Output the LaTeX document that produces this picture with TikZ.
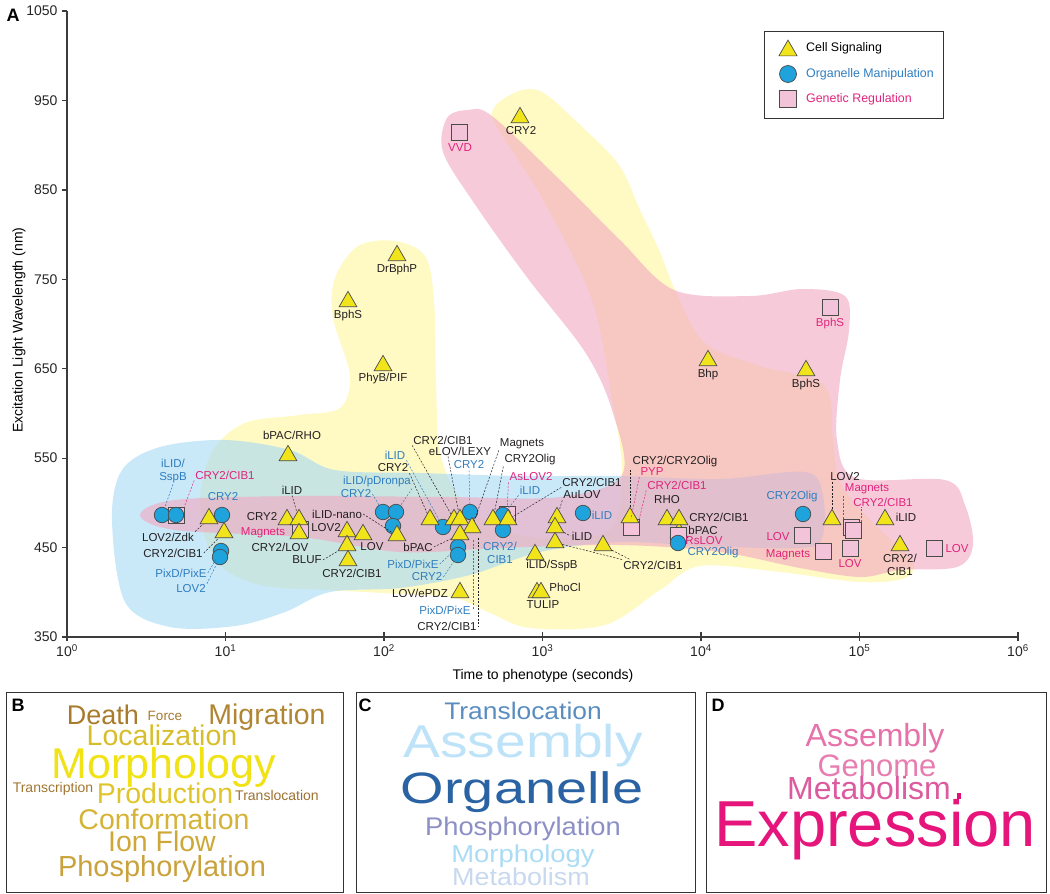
\documentclass[tikz,border=0pt]{standalone}
\usepackage{fontspec}
\setmainfont{Liberation Sans}
\usepackage{graphicx}
\usetikzlibrary{shapes.geometric}

\definecolor{regyellow}{HTML}{FFF59D}
\definecolor{regblue}{HTML}{A5D9F4}
\definecolor{regpink}{HTML}{F2A7C0}
\definecolor{sigyellow}{HTML}{F2E41B}
\definecolor{orgblue}{HTML}{1EA3DD}
\definecolor{genpink}{HTML}{F3C3DA}
\definecolor{mkline}{HTML}{4A4A4A}
\definecolor{labblack}{HTML}{231F20}
\definecolor{labblue}{HTML}{2E7DBF}
\definecolor{labpink}{HTML}{E0237C}
\definecolor{axisgray}{HTML}{3C3C3C}
% word cloud colours
\definecolor{bDeath}{HTML}{A87B2C}
\definecolor{bForce}{HTML}{A57A30}
\definecolor{bMigr}{HTML}{B08634}
\definecolor{bLoc}{HTML}{D8BD2A}
\definecolor{bMorph}{HTML}{F0E214}
\definecolor{bTransc}{HTML}{A27630}
\definecolor{bProd}{HTML}{E0C52A}
\definecolor{bTransl}{HTML}{9D7030}
\definecolor{bConf}{HTML}{D4B336}
\definecolor{bIon}{HTML}{CDA838}
\definecolor{bPhos}{HTML}{C9A23C}
\definecolor{cTransl}{HTML}{5A8DBF}
\definecolor{cAssem}{HTML}{BEE3F8}
\definecolor{cOrg}{HTML}{2A63A3}
\definecolor{cPhos}{HTML}{8C8FC6}
\definecolor{cMorph}{HTML}{AADCF6}
\definecolor{cMetab}{HTML}{C8D8EE}
\definecolor{dAssem}{HTML}{E572A8}
\definecolor{dGen}{HTML}{E77DB0}
\definecolor{dMetab}{HTML}{DC5A9E}
\definecolor{dDot}{HTML}{E0107A}
\definecolor{dExpr}{HTML}{E6157C}

\newcommand{\wsz}[1]{\fontsize{#1}{#1}\selectfont}
\newcommand{\wstretch}[3]{\scalebox{#2}[1]{\wsz{#1}#3}}

\begin{document}
\begin{tikzpicture}[x=1pt, y=-1pt,
    sig/.style={regular polygon, regular polygon sides=3, draw=mkline, fill=sigyellow, line width=0.7pt, inner sep=0pt, minimum size=20.5pt, yshift=-2.6pt},
    org/.style={circle, draw=mkline, fill=orgblue, line width=0.7pt, inner sep=0pt, minimum size=15.5pt},
    gen/.style={rectangle, draw=mkline, fill=genpink, line width=0.7pt, inner sep=0pt, minimum size=16pt},
    lab/.style={font=\fontsize{11.5}{13.5}\selectfont, text=labblack, inner sep=1pt},
    lbl/.style={lab, text=labblue},
    lpk/.style={lab, text=labpink},
    lead/.style={draw=labblack, line width=0.5pt, dash pattern=on 2pt off 1.5pt},
    blead/.style={lead, draw=labblue},
    plead/.style={lead, draw=labpink},
    axis/.style={draw=axisgray, line width=1.3pt},
    tick/.style={font=\fontsize{14}{14}\selectfont, text=black!85},
    keytext/.style={anchor=west, font=\fontsize{12.4}{14}\selectfont, inner sep=0pt},
    panel/.style={draw=black!80, line width=1pt},
    word/.style={anchor=base, inner sep=0pt}]
  \useasboundingbox (0,0) rectangle (1050,894);

  % Draw the regions
  \begin{scope}[fill opacity=0.6]
    \fill[regyellow] plot[smooth cycle, tension=0.55] coordinates {(200,505) (212,452) (245,423) (300,415) (340,408) (350,375) (333,318) (335,278) (358,246) (395,241) (425,256) (434,300) (436,380) (440,452) (460,498) (500,530) (560,538) (612,528) (622,470) (612,400) (592,300) (546,205) (517,158) (492,115) (512,94) (540,91) (578,123) (619,165) (640,210) (660,252) (676,292) (705,343) (760,366) (824,385) (833,440) (840,482) (872,522) (912,560) (905,578) (860,582) (780,572) (700,566) (660,590) (605,625) (530,628) (488,612) (455,598) (400,594) (330,590) (260,585) (215,560)};
    \fill[regblue] plot[smooth cycle, tension=0.55] coordinates {(112,520) (122,470) (160,447) (225,440) (290,450) (335,470) (420,473) (520,476) (620,476) (720,479) (805,472) (823,495) (822,538) (800,548) (700,546) (620,542) (540,552) (470,575) (400,588) (330,592) (285,612) (235,626) (170,627) (125,602)};
    \fill[regpink] plot[smooth cycle, tension=0.55] coordinates {(140,515) (175,500) (300,496) (450,497) (560,497) (622,475) (612,410) (585,352) (526,276) (474,203) (443,152) (447,118) (468,110) (492,116) (560,180) (620,240) (674,290) (750,296) (802,289) (845,296) (849,330) (840,380) (837,440) (856,478) (945,480) (965,505) (973,545) (957,567) (900,570) (860,577) (800,568) (720,552) (620,545) (500,548) (400,552) (300,537) (175,530)};
  \end{scope}

  % Draw the axes
  \draw[axis] (67,11) -- (67,637) -- (1018,637);
  \foreach \v [count=\i from 0] in {1050,950,850,750,650,550,450,350} {
    \draw[axis] (62,{11+\i*89.43}) -- (67,{11+\i*89.43});
    \node[tick, anchor=east] (yt\v) at (61,{11+\i*89.43}) {\v};
  }
  \foreach \k in {0,...,6} {
    \draw[axis] ({67+\k*158.5},632) -- ({67+\k*158.5},641);
    \node[tick, anchor=north] (xt\k) at ({67+\k*158.5},641) {10\textsuperscript{\k}};
  }
  \node[font=\fontsize{14}{14}\selectfont, rotate=90] (ytitle) at (19,330) {Excitation Light Wavelength (nm)};
  \node[font=\fontsize{14}{14}\selectfont] (xtitle) at (543,676) {Time to phenotype (seconds)};
  \node[font=\bfseries\wsz{18}] (pa) at (13,15) {A};

  % Draw the legend
  \draw[panel] (764,31) rectangle (943,118);
  \node[sig, minimum size=21pt] (keysig) at (788,48) {};
  \node[org, minimum size=17pt] (keyorg) at (788,74) {};
  \node[gen, minimum size=16.5pt] (keygen) at (788,99) {};
  \node[keytext] (keysigt) at (806,48) {Cell Signaling};
  \node[keytext, text=labblue] (keyorgt) at (806,74) {Organelle Manipulation};
  \node[keytext, text=labpink] (keygent) at (806,99) {Genetic Regulation};

  % Draw the markers
  \node[sig] (s36) at (679,530) {};
  \foreach \n/\x/\y in {1/459/132, 2/830/307, 3/176/515, 4/300/529, 5/507/514, 6/631/527, 7/678/535, 8/802/535, 9/823/551, 10/851/527, 11/853/530, 12/850/548, 13/934/548}
    \node[gen] (g\n) at (\x,\y) {};
  \foreach \n/\x/\y in {1/162/515, 2/176/515, 3/222/515, 4/221/551, 5/220/557, 6/383/512, 7/396/512, 8/393/526, 9/443/527, 10/470/512, 11/458/547, 12/458/555, 13/503/515, 14/503/530, 15/583/513, 16/678/543, 17/803/514}
    \node[org] (o\n) at (\x,\y) {};
  \foreach \n/\x/\y in {1/520/115, 2/397/253, 3/348/299, 4/383/363, 5/708/358, 6/806/368, 7/288/453, 8/209/516, 9/224/530, 10/287/517, 11/299/517, 12/299/531, 13/347/529, 14/363/532, 15/347/543, 16/348/558, 17/397/533, 18/430/517, 19/454/517, 20/460/517, 21/472/525, 22/460/532, 23/460/590, 24/493/517, 25/508/517, 26/557/515, 27/555/525, 28/555/540, 29/603/543, 30/535/552, 31/537/590, 32/541/590, 33/630/515, 34/667/517, 35/679/517, 37/832/517, 38/885/517, 39/900/543}
    \node[sig] (s\n) at (\x,\y) {};

  % Draw the labels
  \node[lab] (lcry2top) at (521,131) {CRY2};
  \node[lpk] (lvvd) at (460,148) {VVD};
  \node[lab] (ldrb) at (397,270) {DrBphP};
  \node[lab] (lbphs) at (348,316) {BphS};
  \node[lab] (lphyb) at (383,379) {PhyB/PIF};
  \node[lpk] (lbphsg) at (830,324) {BphS};
  \node[lab] (lbhp) at (708,375) {Bhp};
  \node[lab] (lbphs2) at (806,385) {BphS};
  \node[lab] (lbpacrho) at (292,435) {bPAC/RHO};
  \node[lbl, align=center] (lilidsspb) at (173,471) {iLID/\\SspB};
  \node[lpk] (lcc1) at (225,475) {CRY2/CIB1};
  \node[lab] (llovzdk) at (168,537) {LOV2/Zdk};
  \node[lbl] (lcry2a) at (223,497) {CRY2};
  \node[lab] (lcc2) at (173,553) {CRY2/CIB1};
  \node[lbl] (lpix1) at (181,573) {PixD/PixE};
  \node[lbl] (llov2a) at (191,589) {LOV2};
  \node[lab] (lilid1) at (292,490) {iLID};
  \node[lab] (lcry2b) at (262,517) {CRY2};
  \node[lpk] (lmag1) at (263,533) {Magnets};
  \node[lab] (lcrylov) at (280,547) {CRY2/LOV};
  \node[lab] (lnano) at (337,514) {iLID-nano};
  \node[lab] (llov2b) at (326,528) {LOV2};
  \node[lab] (llov1) at (372,547) {LOV};
  \node[lab] (lbluf) at (307,560) {BLUF};
  \node[lab] (lcc3) at (352,573) {CRY2/CIB1};
  \node[lab] (lcc4) at (443,440) {CRY2/CIB1};
  \node[lab] (lelov) at (460,451) {eLOV/LEXY};
  \node[lab] (lmag2) at (522,444) {Magnets};
  \node[lbl] (lilid2) at (395,455) {iLID};
  \node[lab] (lcry2c) at (393,468) {CRY2};
  \node[lbl] (lcry2d) at (469,465) {CRY2};
  \node[lab] (lolig1) at (530,460) {CRY2Olig};
  \node[lbl] (lpdron) at (377,482) {iLID/pDronpa};
  \node[lbl] (lcry2e) at (356,494) {CRY2};
  \node[lpk] (laslov) at (531,477) {AsLOV2};
  \node[lbl] (lilid3) at (530,490) {iLID};
  \node[lab] (lbpac1) at (418,547) {bPAC};
  \node[lbl] (lpix2) at (413,564) {PixD/PixE};
  \node[lbl] (lcry2f) at (427,577) {CRY2};
  \node[lab] (lepdz) at (420,593) {LOV/ePDZ};
  \node[lbl] (lpix3) at (445,610) {PixD/PixE};
  \node[lab] (lcc5) at (447,626) {CRY2/CIB1};
  \node[lbl, align=center] (lcc6) at (500,553) {CRY2/\\CIB1};
  \node[lab] (lcc7) at (592,482) {CRY2/CIB1};
  \node[lab] (laulov) at (582,495) {AuLOV};
  \node[lbl] (lilid4) at (602,515) {iLID};
  \node[lab] (lilid5) at (582,536) {iLID};
  \node[lab] (lcc8) at (653,565) {CRY2/CIB1};
  \node[lab] (lsspb) at (552,566) {iLID/SspB};
  \node[lab] (lphocl) at (565,587) {PhoCl};
  \node[lab] (ltulip) at (543,605) {TULIP};
  \node[lab] (lolig2) at (675,462) {CRY2/CRY2Olig};
  \node[lpk] (lpyp) at (652,472) {PYP};
  \node[lpk] (lcc9) at (677,485) {CRY2/CIB1};
  \node[lab] (lrho) at (667,500) {RHO};
  \node[lab] (lcc10) at (719,517) {CRY2/CIB1};
  \node[lab] (lbpac2) at (703,530) {bPAC};
  \node[lpk] (lrslov) at (704,541) {RsLOV};
  \node[lbl] (lolig3) at (713,553) {CRY2Olig};
  \node[lbl] (lolig4) at (792,497) {CRY2Olig};
  \node[lpk] (llov3) at (778,537) {LOV};
  \node[lpk] (lmag3) at (788,555) {Magnets};
  \node[lab] (llov2c) at (845,477) {LOV2};
  \node[lpk] (lmag4) at (867,489) {Magnets};
  \node[lpk] (lcc11) at (883,502) {CRY2/CIB1};
  \node[lpk] (llov4) at (850,564) {LOV};
  \node[lab] (lilid6) at (906,517) {iLID};
  \node[lab, align=center] (lcc12) at (900,565) {CRY2/\\CIB1};
  \node[lpk] (llov5) at (957,549) {LOV};

  % Draw the leader lines
  \draw[blead] (lilidsspb.south) -- (o1);
  \draw[plead] (lcc1.south west) -- (g3.north east);
  \draw[lead] (llovzdk.north east) -- (s8);
  \draw[lead] (lcc2.east) -- (s9);
  \draw[blead] (lpix1.east) -- (o4);
  \draw[blead] (llov2a.north east) -- (o5);
  \draw[lead] (lilid1.south) -- (s11);
  \draw[lead] (lnano.east) -- (s17);
  \draw[lead] (lbluf.east) -- (s15);
  \draw[blead] (lcry2e.east) -- (o6);
  \draw[blead] (lpdron.south east) -- (o7);
  \draw[blead] (lilid2.south east) -- (o9);
  \draw[lead] (lcry2c.south east) -- (s18);
  \draw[lead] (lcc4.south west) -- (s19);
  \draw[lead] ([xshift=-12pt]lelov.south) -- (s20);
  \draw[blead] (lcry2d.south) -- (o10);
  \draw[lead] (lmag2.south west) -- (s21);
  \draw[lead] (lolig1.south west) -- (s24);
  \draw[plead] (laslov.south west) -- (g5);
  \draw[blead] (lilid3.south west) -- (o13);
  \draw[lead] (lbpac1.east) -- (s22);
  \draw[blead] (lpix2.east) -- (o11);
  \draw[blead] (lcry2f.east) -- (o12);
  \coordinate (pixtop) at (473,540);
  \coordinate (cibtop) at (478,538);
  \draw[blead] (pixtop) -- (pixtop |- lpix3.east);
  \draw[lead] (cibtop) -- (cibtop |- lcc5.east);
  \draw[lead] (lcc7.south west) -- (s25);
  \draw[lead] (laulov.south west) -- (s26);
  \draw[lead] (s27) -- (lilid5.west);
  \draw[lead] (s28) -- (lcc8.north west);
  \draw[lead] (s29) -- ([xshift=8pt]lcc8.north west);
  \draw[lead] (s33.north) -- (s33.north |- lolig2.south);
  \draw[plead] (lpyp.south west) -- (g6.north);
  \draw[plead] (lcc9.south west) -- (g6.north east);
  \draw[lead] (s37.north) -- (s37.north |- llov2c.south);
  \draw[plead] ([xshift=-8pt]g10.north) -- ([xshift=-8pt]g10.north |- lmag4.south);
  \draw[plead] ([xshift=8pt]g11.north) -- ([xshift=8pt]g11.north |- lcc11.south);

  % Draw the word clouds
  \draw[panel] (6,692) rectangle (343,892);
  \draw[panel] (356,692) rectangle (695,892);
  \draw[panel] (706,692) rectangle (1046,892);
  \node[font=\bfseries\wsz{18}] (pb) at (18,705) {B};
  \node[word, text=bDeath, font=\wsz{27}] (bdeath) at (103,724) {Death};
  \node[word, text=bForce, font=\wsz{13.5}] (bforce) at (165,720) {Force};
  \node[word, text=bMigr, font=\wsz{28.5}] (bmigr) at (267,724) {Migration};
  \node[word, text=bLoc, font=\wsz{28.5}] (bloc) at (162,745) {Localization};
  \node[word, text=bMorph, font=\wsz{43}] (bmorph) at (164,778) {Morphology};
  \node[word, text=bTransc, font=\wsz{14}] (btransc) at (53,792) {Transcription};
  \node[word, text=bProd, font=\wsz{28.5}] (bprod) at (165,803) {Production};
  \node[word, text=bTransl, font=\wsz{14}] (btransl) at (277,800) {Translocation};
  \node[word, text=bConf, font=\wsz{28.5}] (bconf) at (164,829) {Conformation};
  \node[word, text=bIon, font=\wsz{28.5}] (bion) at (162,851) {Ion Flow};
  \node[word, text=bPhos, font=\wsz{29}] (bphos) at (162,876) {Phosphorylation};
  \node[font=\bfseries\wsz{18}] (pc) at (365,705) {C};
  \node[word, text=cTransl] (ctransl) at (523,719) {\wstretch{24}{1.1}{Translocation}};
  \node[word, text=cAssem] (cassem) at (523,757) {\wstretch{46}{1.2}{Assembly}};
  \node[word, text=cOrg] (corg) at (522,803) {\wstretch{44}{1.27}{Organelle}};
  \node[word, text=cPhos] (cphos) at (523,835) {\wstretch{25.5}{1.07}{Phosphorylation}};
  \node[word, text=cMorph] (cmorph) at (523,862) {\wstretch{24.5}{1.12}{Morphology}};
  \node[word, text=cMetab] (cmetab) at (521,885) {\wstretch{24.5}{1.1}{Metabolism}};
  \node[font=\bfseries\wsz{18}] (pd) at (718,705) {D};
  \node[word, text=dAssem, font=\wsz{32}] (dassem) at (875,746) {Assembly};
  \node[word, text=dGen, font=\wsz{31}] (dgen) at (877,776) {Genome};
  \node[word, text=dMetab, font=\wsz{32}] (dmetab) at (869,799) {Metabolism};
  \node[fill=dDot, minimum width=4pt, minimum height=5.5pt, inner sep=0pt] (ddot) at (958.5,796) {};
  \node[word, text=dExpr, font=\wsz{65}] (dexpr) at (875,846) {Expression};
\end{tikzpicture}
\end{document}
